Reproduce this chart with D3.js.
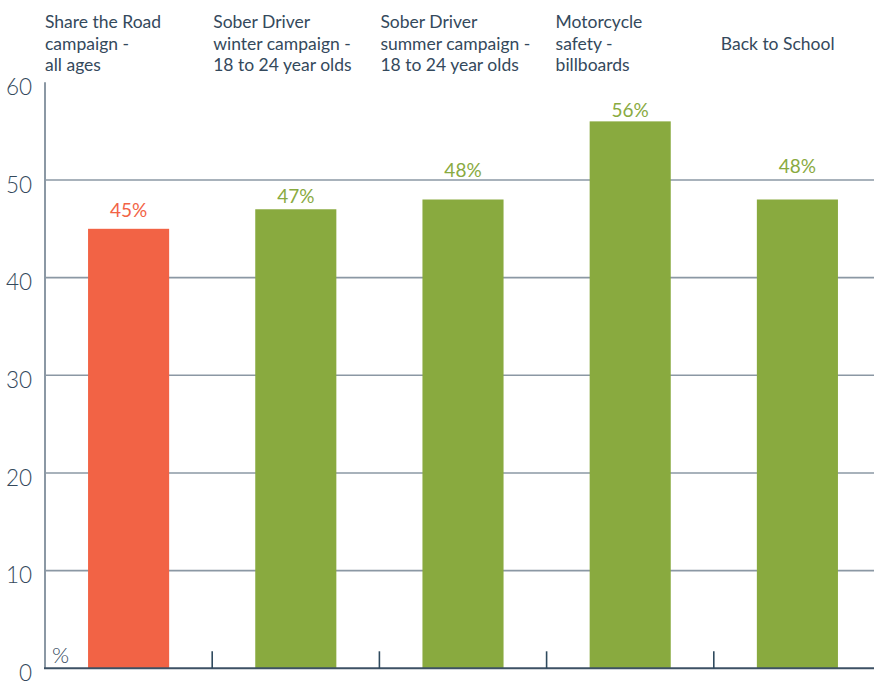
<!DOCTYPE html>
<html>
<head>
<meta charset="utf-8">
<script src="https://cdn.jsdelivr.net/npm/d3@7/dist/d3.min.js"></script>
<style>
  html, body { margin: 0; padding: 0; background: #fff; }
  svg { display: block; font-family: Lato, "Open Sans", sans-serif; }
</style>
</head>
<body>
<svg id="chart" width="874" height="682"></svg>
<script>
// Campaign awareness, percent of respondents
const campaigns = [
  "Share the Road\ncampaign -\nall ages",
  "Sober Driver\nwinter campaign -\n18 to 24 year olds",
  "Sober Driver\nsummer campaign -\n18 to 24 year olds",
  "Motorcycle\nsafety -\nbillboards",
  "Back to School"
];
const awareness = [45, 47, 48, 56, 48];
const barColors = ["#f26345", "#89aa3f", "#89aa3f", "#89aa3f", "#89aa3f"];
const yTicks = [0, 10, 20, 30, 40, 50, 60];

// layout tweaks: heading x nudges and gap between bar top and its value label
const headingShift = [0, 1, 1, 9, 7];
const labelGap = [12, 6.5, 22.5, 4.5, 26.8];

const svg = d3.select("#chart");
const W = 874;
const plotLeft = 45, plotBottom = 668.3, plotTop = 82.3;

const x = d3.scaleBand()
  .domain(d3.range(campaigns.length))
  .range([plotLeft, plotLeft + 167.2 * campaigns.length])
  .paddingInner(0.515)
  .paddingOuter(0.2575);

const y = d3.scaleLinear().domain([0, 60]).range([plotBottom, plotTop]);

const textColor = "#34495c";
const gridColor = "#8b98a4";

// horizontal gridlines (none at the top value)
svg.append("g")
  .selectAll("line")
  .data(yTicks.filter(t => t > 0 && t < 60))
  .join("line")
  .attr("x1", plotLeft).attr("x2", W)
  .attr("y1", d => y(d)).attr("y2", d => y(d))
  .attr("stroke", gridColor)
  .attr("stroke-width", 1.6);

// y axis labels
svg.append("g")
  .selectAll("text")
  .data(yTicks)
  .join("text")
  .attr("x", 32)
  .attr("y", d => y(d) + 7)
  .attr("text-anchor", "end")
  .attr("dominant-baseline", "middle")
  .attr("fill", textColor)
  .attr("font-size", 22.5)
  .attr("font-weight", 300)
  .text(d => d);

// vertical axis line
svg.append("line")
  .attr("x1", plotLeft).attr("x2", plotLeft)
  .attr("y1", plotTop).attr("y2", plotBottom)
  .attr("stroke", gridColor)
  .attr("stroke-width", 2);

// bars
svg.append("g")
  .selectAll("rect")
  .data(awareness)
  .join("rect")
  .attr("x", (d, i) => x(i))
  .attr("width", x.bandwidth())
  .attr("y", d => y(d))
  .attr("height", d => y(0) - y(d))
  .attr("fill", (d, i) => barColors[i]);

// baseline
svg.append("line")
  .attr("x1", plotLeft - 1).attr("x2", W)
  .attr("y1", plotBottom).attr("y2", plotBottom)
  .attr("stroke", "#3d5164")
  .attr("stroke-width", 2);

// category separators
const step = x.step();
svg.append("g")
  .selectAll("line")
  .data(d3.range(1, campaigns.length))
  .join("line")
  .attr("x1", i => x(i) - step * x.paddingInner() / 2)
  .attr("x2", i => x(i) - step * x.paddingInner() / 2)
  .attr("y1", plotBottom - 17).attr("y2", plotBottom)
  .attr("stroke", "#2f4a5e")
  .attr("stroke-width", 1.6);

// value labels
svg.append("g")
  .selectAll("text")
  .data(awareness)
  .join("text")
  .attr("x", (d, i) => x(i) + x.bandwidth() / 2)
  .attr("y", (d, i) => y(d) - labelGap[i])
  .attr("text-anchor", "middle")
  .attr("fill", (d, i) => barColors[i])
  .attr("font-size", 19)
  .attr("font-weight", 400)
  .text(d => d + "%");

// unit marker
svg.append("text")
  .attr("x", 52).attr("y", 663)
  .attr("fill", textColor)
  .attr("font-size", 22)
  .attr("font-weight", 300)
  .text("%");

// campaign headings
const heads = svg.append("g");
campaigns.forEach((c, i) => {
  const lines = c.split("\n");
  const gx = x(i) - step * x.paddingOuter() + headingShift[i];
  const t = heads.append("text")
    .attr("fill", textColor)
    .attr("font-size", 17.5)
    .attr("font-weight", 400);
  lines.forEach((ln, k) => {
    t.append("tspan")
      .attr("x", gx)
      .attr("y", 49.5 + (k - (lines.length - 1) / 2) * 21.3)
      .text(ln);
  });
});
</script>
</body>
</html>
